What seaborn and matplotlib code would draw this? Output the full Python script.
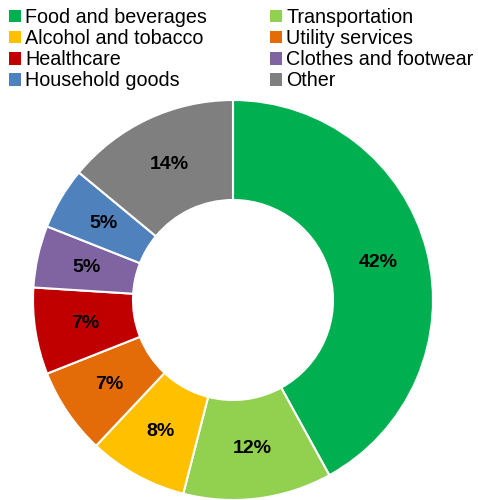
import matplotlib
matplotlib.use("Agg")
import matplotlib.pyplot as plt
import seaborn as sns
import numpy as np

categories = ["Food and beverages", "Transportation", "Alcohol and tobacco", "Utility services",
              "Healthcare", "Clothes and footwear", "Household goods", "Other"]
values = [42, 12, 8, 7, 7, 5, 5, 14]
labels = ["42%", "12%", "8%", "7%", "7%", "5%", "5%", "14%"]
colors = ["#00B050", "#92D050", "#FFC000", "#E36C09", "#C00000", "#8064A2", "#4F81BD", "#7F7F7F"]

sns.set_theme(style="white")
plt.rcParams["font.family"] = ["Liberation Sans", "DejaVu Sans"]
plt.rcParams["text.color"] = "black"

W, H = 478, 500
fig = plt.figure(figsize=(W / 100, H / 100), dpi=100)
cx, cy, R = 233, 300, 200
ax = fig.add_axes([(cx - R) / W, (H - cy - R) / H, 2 * R / W, 2 * R / H])

wedges, texts = ax.pie(values, colors=colors, startangle=90, counterclock=False, radius=1,
                       labels=labels, labeldistance=None,
                       wedgeprops=dict(width=0.5, edgecolor="white", linewidth=1.5))
for w, lab in zip(wedges, labels):
    ang = np.deg2rad((w.theta1 + w.theta2) / 2)
    ax.text(0.75 * np.cos(ang), 0.75 * np.sin(ang), lab, ha="center", va="center",
            fontsize=14, fontweight="bold", color="black")
ax.set_xlim(-1, 1)
ax.set_ylim(-1, 1)
ax.set_aspect("equal")
ax.axis("off")

order = [0, 2, 4, 6, 1, 3, 5, 7]
leg = fig.legend([wedges[i] for i in order], [categories[i] for i in order], ncol=2,
                 loc="upper left", bbox_to_anchor=(2 / W, 1.0 - 1 / H), frameon=False,
                 fontsize=14.2, handlelength=0.6, handleheight=0.6, handletextpad=0.22,
                 labelspacing=0.11, columnspacing=3.2, borderaxespad=0.0, borderpad=0.35,
                 labelcolor="black")
for h in leg.legend_handles:
    h.set_edgecolor("none")

fig.savefig("out.png", dpi=100)
